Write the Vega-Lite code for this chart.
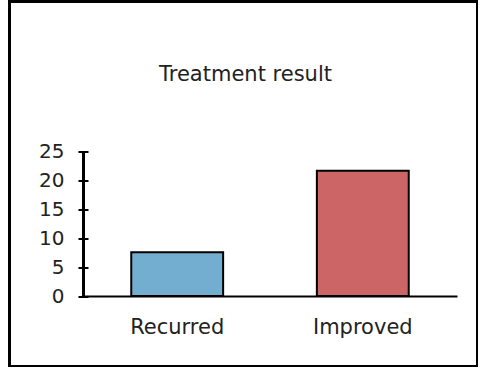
{
  "$schema": "https://vega.github.io/schema/vega-lite/v6.json",
  "autosize": "none",
  "padding": {"left": 9.5, "top": 1.5, "right": 0, "bottom": 0},
  "width": 468,
  "height": 365,
  "background": "white",
  "config": {
    "view": {"stroke": "black", "strokeWidth": 3},
    "font": "DejaVu Sans",
    "axis": {"grid": false, "labelColor": "#222", "domainColor": "black", "tickColor": "black"}
  },
  "title": {
    "text": "Treatment result",
    "fontSize": 21,
    "fontWeight": "normal",
    "color": "#222",
    "anchor": "middle",
    "frame": "group",
    "baseline": "alphabetic",
    "offset": -100.5,
    "dx": 2
  },
  "data": {
    "values": [
      {"result": "Recurred", "count": 7.6},
      {"result": "Improved", "count": 21.7}
    ]
  },
  "encoding": {
    "x": {
      "field": "result",
      "type": "nominal",
      "sort": null,
      "scale": {"range": [73.5, 447.5], "paddingInner": 0.505, "paddingOuter": 0.26},
      "axis": {
        "orient": "bottom",
        "offset": -70.5,
        "title": null,
        "ticks": false,
        "tickSize": 0,
        "labelAngle": 0,
        "labelPadding": 20,
        "labelFontSize": 21,
        "domainWidth": 2
      }
    },
    "y": {
      "field": "count",
      "type": "quantitative",
      "scale": {"domain": [0, 25], "range": [294.5, 150.2], "nice": false, "zero": true}
    }
  },
  "layer": [
    {
      "mark": {"type": "bar", "opacity": 0},
      "encoding": {
        "y": {
          "field": "count",
          "type": "quantitative",
          "axis": {
            "orient": "left",
            "offset": -78.5,
            "title": null,
            "domain": false,
            "tickSize": 10,
            "tickWidth": 2,
            "values": [0, 5, 10, 15, 20, 25],
            "labelOverlap": false,
            "labelPadding": 14,
            "labelFontSize": 20
          }
        }
      }
    },
    {
      "mark": {"type": "bar", "stroke": "black", "strokeWidth": 2},
      "encoding": {
        "y": {
          "field": "count",
          "type": "quantitative",
          "axis": {
            "orient": "left",
            "offset": -73.5,
            "title": null,
            "domain": true,
            "domainWidth": 3,
            "ticks": false,
            "labels": false
          }
        },
        "color": {
          "field": "result",
          "type": "nominal",
          "scale": {"domain": ["Recurred", "Improved"], "range": ["#73AED1", "#CB6566"]},
          "legend": null
        }
      }
    }
  ],
  "resolve": {"axis": {"y": "independent"}}
}
